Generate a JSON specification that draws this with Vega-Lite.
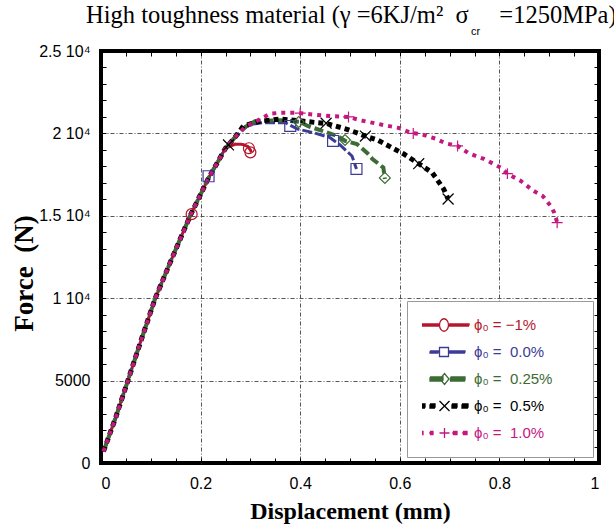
{
  "$schema": "https://vega.github.io/schema/vega-lite/v6.json",
  "width": 498,
  "height": 412,
  "autosize": "none",
  "padding": {"left": 101, "top": 51, "right": 15, "bottom": 66},
  "background": "white",
  "title": {
    "text": "High toughness material (γ =6KJ/m²\u00a0\u00a0σ\u00a0\u00a0\u00a0\u00a0\u00a0=1250MPa)",
    "subtitle": "\u200b\u00a0\u00a0\u00a0\u00a0\u00a0\u00a0\u00a0\u00a0\u00a0\u00a0\u00a0\u00a0\u00a0\u00a0\u00a0\u00a0\u00a0\u00a0\u00a0\u00a0\u00a0\u00a0\u00a0\u00a0\u00a0\u00a0\u00a0\u00a0\u00a0\u00a0\u00a0\u00a0\u00a0\u00a0\u00a0\u00a0\u00a0\u00a0\u00a0\u00a0\u00a0\u00a0\u00a0\u00a0\u00a0\u00a0\u00a0\u00a0\u00a0\u00a0\u00a0\u00a0\u00a0\u00a0\u00a0\u00a0\u00a0\u00a0\u00a0\u00a0\u00a0\u00a0\u00a0\u00a0\u00a0\u00a0\u00a0\u00a0\u00a0\u00a0\u00a0\u00a0\u00a0\u00a0\u00a0\u00a0\u00a0\u00a0\u00a0\u00a0\u00a0\u00a0\u00a0\u00a0\u00a0\u00a0\u00a0\u00a0\u00a0\u00a0\u00a0\u00a0\u00a0\u00a0\u00a0\u00a0\u00a0\u00a0\u00a0\u00a0\u00a0\u00a0\u00a0\u00a0\u00a0\u00a0\u00a0\u00a0\u00a0\u00a0\u00a0\u00a0\u00a0\u00a0\u00a0\u00a0\u00a0\u00a0\u00a0\u00a0\u00a0\u00a0\u00a0\u00a0\u00a0\u00a0cr",
    "anchor": "start",
    "frame": "group",
    "dx": -15,
    "offset": 5,
    "font": "Liberation Serif",
    "fontSize": 24.5,
    "fontWeight": "normal",
    "color": "black",
    "subtitleFont": "Liberation Sans",
    "subtitleFontSize": 11,
    "subtitleColor": "black",
    "subtitlePadding": -2
  },
  "datasets": {
    "curves": [
      {"s": "a", "x": 0.005, "y": 700}, {"s": "a", "x": 0.03, "y": 2800}, {"s": "a", "x": 0.054, "y": 5000}, {"s": "a", "x": 0.08, "y": 7400}, {"s": "a", "x": 0.109, "y": 10000}, {"s": "a", "x": 0.145, "y": 12600}, {"s": "a", "x": 0.179, "y": 15000}, {"s": "a", "x": 0.2, "y": 16300}, {"s": "a", "x": 0.216, "y": 17300}, {"s": "a", "x": 0.235, "y": 18300}, {"s": "a", "x": 0.25, "y": 19100},
      {"s": "a", "x": 0.27, "y": 19350}, {"s": "a", "x": 0.285, "y": 19330}, {"s": "a", "x": 0.295, "y": 19200}, {"s": "a", "x": 0.3, "y": 19000}, {"s": "a", "x": 0.302, "y": 18850},
      {"s": "b", "x": 0.005, "y": 700}, {"s": "b", "x": 0.03, "y": 2800}, {"s": "b", "x": 0.054, "y": 5000}, {"s": "b", "x": 0.08, "y": 7400}, {"s": "b", "x": 0.109, "y": 10000}, {"s": "b", "x": 0.145, "y": 12600}, {"s": "b", "x": 0.179, "y": 15000}, {"s": "b", "x": 0.2, "y": 16300}, {"s": "b", "x": 0.216, "y": 17300}, {"s": "b", "x": 0.235, "y": 18300}, {"s": "b", "x": 0.25, "y": 19100},
      {"s": "b", "x": 0.27, "y": 19800}, {"s": "b", "x": 0.285, "y": 20250}, {"s": "b", "x": 0.3, "y": 20550}, {"s": "b", "x": 0.326, "y": 20650}, {"s": "b", "x": 0.37, "y": 20650}, {"s": "b", "x": 0.394, "y": 20270}, {"s": "b", "x": 0.427, "y": 20040}, {"s": "b", "x": 0.46, "y": 19740}, {"s": "b", "x": 0.48, "y": 19300}, {"s": "b", "x": 0.504, "y": 18630}, {"s": "b", "x": 0.513, "y": 17840},
      {"s": "c", "x": 0.005, "y": 700}, {"s": "c", "x": 0.03, "y": 2800}, {"s": "c", "x": 0.054, "y": 5000}, {"s": "c", "x": 0.08, "y": 7400}, {"s": "c", "x": 0.109, "y": 10000}, {"s": "c", "x": 0.145, "y": 12600}, {"s": "c", "x": 0.179, "y": 15000}, {"s": "c", "x": 0.2, "y": 16300}, {"s": "c", "x": 0.216, "y": 17300}, {"s": "c", "x": 0.235, "y": 18300}, {"s": "c", "x": 0.25, "y": 19100},
      {"s": "c", "x": 0.27, "y": 19800}, {"s": "c", "x": 0.29, "y": 20400}, {"s": "c", "x": 0.31, "y": 20750}, {"s": "c", "x": 0.36, "y": 20800}, {"s": "c", "x": 0.4, "y": 20700}, {"s": "c", "x": 0.415, "y": 20450}, {"s": "c", "x": 0.455, "y": 20050}, {"s": "c", "x": 0.474, "y": 19850}, {"s": "c", "x": 0.49, "y": 19550}, {"s": "c", "x": 0.514, "y": 19350}, {"s": "c", "x": 0.535, "y": 18800}, {"s": "c", "x": 0.545, "y": 18450}, {"s": "c", "x": 0.567, "y": 17920}, {"s": "c", "x": 0.57, "y": 17230},
      {"s": "d", "x": 0.005, "y": 700}, {"s": "d", "x": 0.03, "y": 2800}, {"s": "d", "x": 0.054, "y": 5000}, {"s": "d", "x": 0.08, "y": 7400}, {"s": "d", "x": 0.109, "y": 10000}, {"s": "d", "x": 0.145, "y": 12600}, {"s": "d", "x": 0.179, "y": 15000}, {"s": "d", "x": 0.2, "y": 16300}, {"s": "d", "x": 0.216, "y": 17300}, {"s": "d", "x": 0.235, "y": 18300}, {"s": "d", "x": 0.25, "y": 19100},
      {"s": "d", "x": 0.27, "y": 19800}, {"s": "d", "x": 0.286, "y": 20450}, {"s": "d", "x": 0.32, "y": 20750}, {"s": "d", "x": 0.36, "y": 20870}, {"s": "d", "x": 0.404, "y": 20750}, {"s": "d", "x": 0.434, "y": 20650}, {"s": "d", "x": 0.453, "y": 20600}, {"s": "d", "x": 0.494, "y": 20250}, {"s": "d", "x": 0.531, "y": 19840}, {"s": "d", "x": 0.555, "y": 19600}, {"s": "d", "x": 0.608, "y": 18750}, {"s": "d", "x": 0.638, "y": 18160}, {"s": "d", "x": 0.665, "y": 17620}, {"s": "d", "x": 0.688, "y": 16630}, {"s": "d", "x": 0.697, "y": 16020},
      {"s": "e", "x": 0.005, "y": 700}, {"s": "e", "x": 0.03, "y": 2800}, {"s": "e", "x": 0.054, "y": 5000}, {"s": "e", "x": 0.08, "y": 7400}, {"s": "e", "x": 0.109, "y": 10000}, {"s": "e", "x": 0.145, "y": 12600}, {"s": "e", "x": 0.179, "y": 15000}, {"s": "e", "x": 0.2, "y": 16300}, {"s": "e", "x": 0.216, "y": 17300}, {"s": "e", "x": 0.235, "y": 18300}, {"s": "e", "x": 0.25, "y": 19100},
      {"s": "e", "x": 0.27, "y": 19800}, {"s": "e", "x": 0.29, "y": 20400}, {"s": "e", "x": 0.32, "y": 20870}, {"s": "e", "x": 0.34, "y": 21200}, {"s": "e", "x": 0.36, "y": 21250}, {"s": "e", "x": 0.394, "y": 21250}, {"s": "e", "x": 0.434, "y": 21120}, {"s": "e", "x": 0.46, "y": 21050}, {"s": "e", "x": 0.497, "y": 21000}, {"s": "e", "x": 0.52, "y": 20800}, {"s": "e", "x": 0.567, "y": 20510}, {"s": "e", "x": 0.598, "y": 20330}, {"s": "e", "x": 0.622, "y": 20040}, {"s": "e", "x": 0.642, "y": 19960}, {"s": "e", "x": 0.672, "y": 19680}, {"s": "e", "x": 0.692, "y": 19400}, {"s": "e", "x": 0.716, "y": 19240}, {"s": "e", "x": 0.738, "y": 18800}, {"s": "e", "x": 0.769, "y": 18450}, {"s": "e", "x": 0.803, "y": 17920}, {"s": "e", "x": 0.816, "y": 17560}, {"s": "e", "x": 0.843, "y": 17110}, {"s": "e", "x": 0.869, "y": 16500}, {"s": "e", "x": 0.887, "y": 16200}, {"s": "e", "x": 0.903, "y": 15600}, {"s": "e", "x": 0.91, "y": 15200}, {"s": "e", "x": 0.916, "y": 14600}
    ],
    "markers": [
      {"s": "a", "x": 0.182, "y": 15100}, {"s": "a", "x": 0.297, "y": 19100}, {"s": "a", "x": 0.3, "y": 18850},
      {"s": "b", "x": 0.216, "y": 17400}, {"s": "b", "x": 0.38, "y": 20450}, {"s": "b", "x": 0.466, "y": 19540}, {"s": "b", "x": 0.513, "y": 17840},
      {"s": "c", "x": 0.397, "y": 20690}, {"s": "c", "x": 0.49, "y": 19600}, {"s": "c", "x": 0.57, "y": 17300},
      {"s": "d", "x": 0.256, "y": 19300}, {"s": "d", "x": 0.452, "y": 20620}, {"s": "d", "x": 0.531, "y": 19840}, {"s": "d", "x": 0.638, "y": 18160}, {"s": "d", "x": 0.697, "y": 16020},
      {"s": "e", "x": 0.4, "y": 21230}, {"s": "e", "x": 0.497, "y": 21000}, {"s": "e", "x": 0.627, "y": 20000}, {"s": "e", "x": 0.716, "y": 19240}, {"s": "e", "x": 0.816, "y": 17560}, {"s": "e", "x": 0.916, "y": 14580}
    ]
  },
  "layer": [
    {
      "data": {"name": "curves"},
      "mark": {"type": "line", "strokeCap": "butt"},
      "encoding": {
        "x": {
          "field": "x", "type": "quantitative",
          "scale": {"domain": [0, 1], "nice": false, "zero": false},
          "axis": {
            "orient": "bottom",
            "values": [0, 0.05, 0.1, 0.15, 0.2, 0.25, 0.3, 0.35, 0.4, 0.45, 0.5, 0.55, 0.6, 0.65, 0.7, 0.75, 0.8, 0.85, 0.9, 0.95, 1],
            "labelExpr": "round(datum.value*20) % 4 == 0 ? format(datum.value, '.2~f') : ''",
            "gridOpacity": {"condition": {"test": "round(datum.value*20) % 4 == 0 && datum.value > 0.01 && datum.value < 0.99", "value": 1}, "value": 0},
            "title": "Displacement (mm)",
            "titlePadding": 8,
            "labelPadding": 17
          }
        },
        "y": {
          "field": "y", "type": "quantitative",
          "scale": {"domain": [0, 25000], "nice": false},
          "axis": {
            "orient": "left",
            "values": [0, 1000, 2000, 3000, 4000, 5000, 6000, 7000, 8000, 9000, 10000, 11000, 12000, 13000, 14000, 15000, 16000, 17000, 18000, 19000, 20000, 21000, 22000, 23000, 24000, 25000],
            "labelExpr": "datum.value % 5000 != 0 ? '' : datum.value == 0 ? '0' : datum.value == 5000 ? '5000' : (datum.value/10000) + ' 10⁴'",
            "gridOpacity": {"condition": {"test": "datum.value % 5000 == 0 && datum.value > 0 && datum.value < 25000", "value": 1}, "value": 0},
            "title": "Force\u00a0\u00a0(N)",
            "titleFontSize": 27,
            "titleY": 222,
            "titlePadding": 0,
            "labelPadding": 16
          }
        },
        "color": {
          "field": "s", "type": "nominal",
          "scale": {"domain": ["a", "b", "c", "d", "e"], "range": ["#b5162c", "#3c3c96", "#3d6b34", "#000000", "#c4177f"]},
          "legend": {
            "title": null,
            "orient": "bottom-right",
            "offset": 6,
            "padding": 15,
            "fillColor": "white",
            "strokeColor": "#999999",
            "rowPadding": 9,
            "clipHeight": 18,
            "labelFont": "Liberation Sans",
            "labelFontSize": 15,
            "labelOffset": 4,
            "symbolOffset": -4,
            "symbolSize": 2500,
            "symbolStrokeWidth": 1.3,
            "symbolFillColor": "white",
            "labelExpr": "datum.value == 'a' ? 'ϕ₀ = −1%\u00a0\u00a0\u00a0\u00a0\u00a0\u00a0\u00a0\u00a0\u200b' : datum.value == 'b' ? 'ϕ₀ =\u00a0\u00a00.0%\u00a0\u00a0\u00a0\u00a0\u00a0\u00a0\u00a0\u00a0\u200b' : datum.value == 'c' ? 'ϕ₀ =\u00a0\u00a00.25%\u00a0\u00a0\u00a0\u00a0\u00a0\u00a0\u200b' : datum.value == 'd' ? 'ϕ₀ =\u00a0\u00a00.5%\u00a0\u00a0\u00a0\u00a0\u00a0\u00a0\u00a0\u00a0\u200b' : 'ϕ₀ =\u00a0\u00a01.0%\u00a0\u00a0\u00a0\u00a0\u00a0\u00a0\u00a0\u00a0\u200b'",
            "labelColor": {"expr": "scale('color', datum.value)"},
            "symbolType": {"expr": "datum.value == 'a' ? 'M-1,-0.04H-0.2V0H-1V0.04H-0.2M0.2,-0.04H1V0H0.2V0.04H1M-0.18,0A0.18,0.25,0,1,1,0.18,0A0.18,0.25,0,1,1,-0.18,0Z' : datum.value == 'b' ? 'M-0.56,-0.04H-0.22V0H-0.56V0.04H-0.22M0.18,-0.04H0.84V0H0.18V0.04H0.84M-0.18,-0.18H0.18V0.18H-0.18Z' : datum.value == 'c' ? 'M-0.56,-0.08H-0.04V-0.04H-0.56V0H-0.04V0.04H-0.56V0.08H-0.04M0.26,-0.08H0.84V-0.04H0.26V0H0.84V0.04H0.26V0.08H0.84M-0.16,0L0.02,-0.22L0.2,0L0.02,0.22Z' : datum.value == 'd' ? 'M-0.96,-0.08H-0.76V-0.04H-0.96V0H-0.76V0.04H-0.96V0.08H-0.76M-0.56,-0.08H-0.36V-0.04H-0.56V0H-0.36V0.04H-0.56V0.08H-0.36M0.32,-0.08H0.52V-0.04H0.32V0H0.52V0.04H0.32V0.08H0.52M0.72,-0.08H0.96V-0.04H0.72V0H0.96V0.04H0.72V0.08H0.96M-0.18,-0.2L0.22,0.2M0.22,-0.2L-0.18,0.2' : 'M-0.96,-0.06H-0.84V-0.02H-0.96V0.02H-0.84V0.06H-0.96M-0.56,-0.06H-0.44V-0.02H-0.56V0.02H-0.44V0.06H-0.56M0.36,-0.06H0.52V-0.02H0.36V0.02H0.52V0.06H0.36M0.76,-0.06H0.92V-0.02H0.76V0.02H0.92V0.06H0.76M-0.18,0H0.22M0.02,-0.2V0.2'"}
          }
        },
        "strokeDash": {
          "field": "s", "type": "nominal",
          "scale": {"domain": ["e", "d", "c", "b", "a"], "range": [[4, 5], [5, 4], [9, 4], [10, 3], [1, 0]]},
          "legend": null
        },
        "strokeWidth": {
          "field": "s", "type": "nominal",
          "scale": {"type": "ordinal", "domain": ["b", "a", "c", "d", "e"], "range": [3, 3, 4, 5, 4]},
          "legend": null
        }
      }
    },
    {
      "data": {"name": "markers"},
      "mark": {"type": "point", "filled": false, "strokeWidth": 1.2, "size": 120, "opacity": 1},
      "encoding": {
        "x": {
          "field": "x", "type": "quantitative",
          "scale": {"domain": [0, 1], "nice": false, "zero": false},
          "axis": {"orient": "top", "values": [0, 0.05, 0.1, 0.15, 0.2, 0.25, 0.3, 0.35, 0.4, 0.45, 0.5, 0.55, 0.6, 0.65, 0.7, 0.75, 0.8, 0.85, 0.9, 0.95, 1], "labels": false, "grid": false, "title": null}
        },
        "y": {
          "field": "y", "type": "quantitative",
          "scale": {"domain": [0, 25000], "nice": false},
          "axis": {"orient": "right", "values": [0, 1000, 2000, 3000, 4000, 5000, 6000, 7000, 8000, 9000, 10000, 11000, 12000, 13000, 14000, 15000, 16000, 17000, 18000, 19000, 20000, 21000, 22000, 23000, 24000, 25000], "labels": false, "grid": false, "title": null}
        },
        "color": {"field": "s", "type": "nominal", "legend": null},
        "shape": {
          "field": "s", "type": "nominal",
          "scale": {"domain": ["e", "d", "c", "b", "a"], "range": ["M-1,0H1M0,-1V1", "M-1,-1L1,1M1,-1L-1,1", "diamond", "square", "circle"]},
          "legend": null
        }
      }
    }
  ],
  "resolve": {"axis": {"x": "independent", "y": "independent"}},
  "config": {
    "view": {"stroke": "black", "strokeWidth": 4},
    "axis": {
      "domain": false,
      "labelFont": "Liberation Sans",
      "labelFontSize": 16,
      "labelColor": "black",
      "titleFont": "Liberation Serif",
      "titleFontSize": 24,
      "titleFontWeight": "bold",
      "titleColor": "black",
      "tickColor": "black",
      "tickWidth": 1,
      "tickSize": -5,
      "gridColor": "#555555",
      "gridDash": [4, 2, 1, 2],
      "gridWidth": 1
    }
  }
}
